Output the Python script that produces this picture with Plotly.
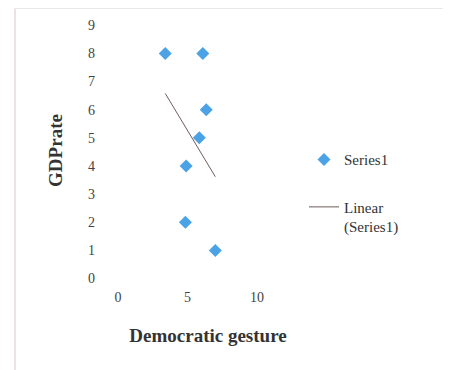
import numpy as np
import plotly.graph_objects as go

# Data
democratic_gesture = [3.4, 6.1, 6.35, 5.85, 4.9, 4.85, 7.0]
gdp_rate = [8, 8, 6, 5, 4, 2, 1]
x_ticks = [0, 5, 10]
y_ticks = [0, 1, 2, 3, 4, 5, 6, 7, 8, 9]

# Linear trendline (least squares)
slope, intercept = np.polyfit(democratic_gesture, gdp_rate, 1)
trend_x = [min(democratic_gesture), max(democratic_gesture)]
trend_y = [slope * v + intercept for v in trend_x]

font_family = "Liberation Serif, Times New Roman, serif"

fig = go.Figure()
fig.add_trace(go.Scatter(
    x=democratic_gesture, y=gdp_rate, mode="markers", name="Series1",
    legendgroup="s1",
    marker=dict(symbol="diamond", size=10, color="#4BA3E6"),
))
fig.add_trace(go.Scatter(
    x=trend_x, y=trend_y, mode="lines", name="Linear<br>(Series1)",
    legendgroup="t1",
    line=dict(color="#6e5c5c", width=1),
))

fig.update_layout(
    width=451, height=370,
    margin=dict(l=100, r=151, t=6, b=91),
    paper_bgcolor="white", plot_bgcolor="white",
    font=dict(family=font_family, size=14, color="#333333"),
    showlegend=True,
    legend=dict(x=0.98, y=0.527, xanchor="left", yanchor="top",
                font=dict(family=font_family, size=15, color="#333333"),
                tracegroupgap=25, valign="top", bgcolor="rgba(0,0,0,0)"),
    xaxis=dict(range=[-0.72, 13.67], tickvals=x_ticks, showgrid=False,
               zeroline=False, showline=False, ticks="",
               tickfont=dict(family=font_family, size=14, color="#444444"),
               title=dict(text="<b>Democratic gesture</b>", standoff=24,
                          font=dict(family=font_family, size=19, color="#333333"))),
    yaxis=dict(range=[-0.3, 9.4], tickvals=y_ticks, showgrid=False,
               zeroline=False, showline=False, ticks="",
               ticklabelstandoff=12,
               tickfont=dict(family=font_family, size=14, color="#444444"),
               title=dict(text="<b>GDPrate</b>", standoff=20,
                          font=dict(family=font_family, size=19, color="#333333"))),
    shapes=[
        dict(type="line", xref="paper", yref="paper", x0=-0.465, x1=-0.465,
             y0=-0.33, y1=1.02, line=dict(color="#d8c6cc", width=1)),
        dict(type="line", xref="paper", yref="paper", x0=-0.465, x1=1.75,
             y0=1.02, y1=1.02, line=dict(color="#e8e8e8", width=1)),
    ],
)

fig.write_html("out.html")
